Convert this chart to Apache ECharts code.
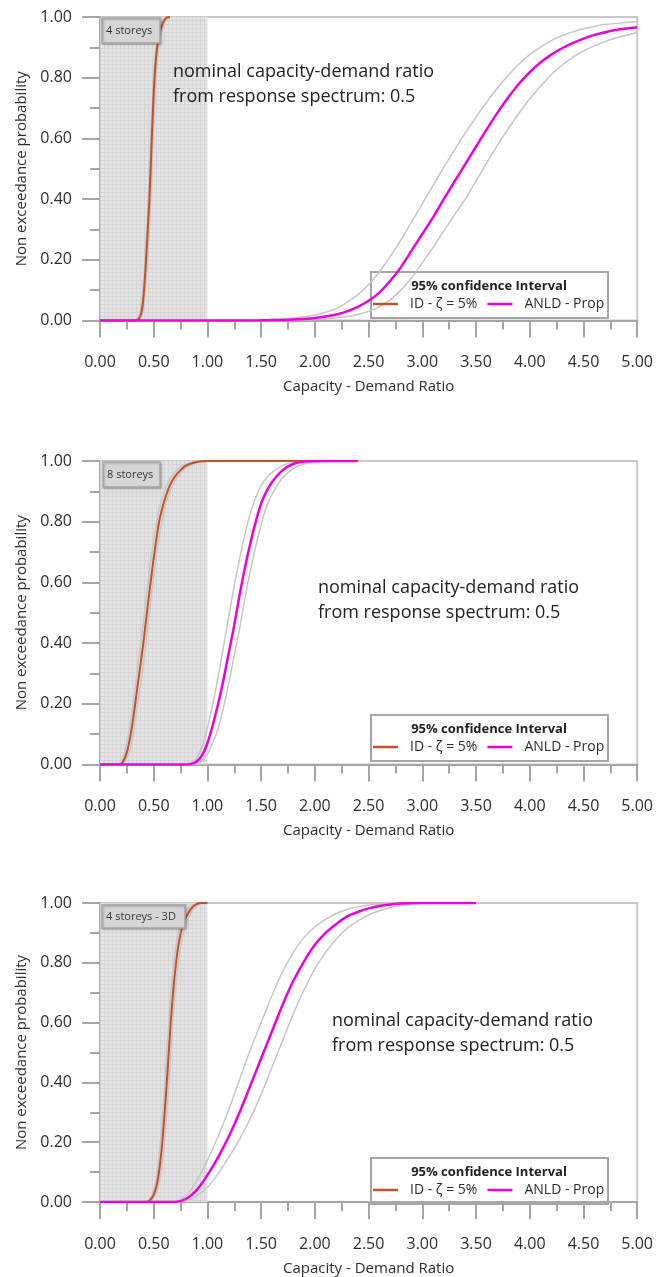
<!DOCTYPE html>
<html>
<head>
<meta charset="utf-8">
<script src="https://cdn.jsdelivr.net/npm/echarts@6/dist/echarts.min.js"></script>
<style>html,body{margin:0;padding:0;background:#fff}#c{width:656px;height:1277px}</style>
</head>
<body>
<div id="c"></div>
<script>
// ---------- data ----------
const panelLabels = ['4 storeys', '8 storeys', '4 storeys - 3D'];
const noteLines = ['nominal capacity-demand ratio', 'from response spectrum: 0.5'];
const legendTitle = '95% confidence Interval';
const seriesNames = ['ID - ζ = 5%', 'ANLD - Prop'];
const xAxisName = 'Capacity - Demand Ratio';
const yAxisName = 'Non exceedance probability';

// Panel 1 (4 storeys)
const id1X   = [0, 0.30, 0.35, 0.38, 0.40, 0.42, 0.44, 0.46, 0.48, 0.50, 0.52, 0.54, 0.56, 0.58, 0.60, 0.62, 0.65];
const id1    = [0, 0, 0.002, 0.02, 0.06, 0.15, 0.27, 0.40, 0.58, 0.75, 0.86, 0.92, 0.955, 0.975, 0.99, 0.998, 1.0];
const id1Up  = [0, 0, 0.006, 0.04, 0.10, 0.21, 0.34, 0.50, 0.67, 0.81, 0.90, 0.945, 0.97, 0.985, 0.995, 1.0, 1.0];
const id1Lo  = [0, 0, 0.0, 0.008, 0.03, 0.09, 0.19, 0.30, 0.46, 0.65, 0.79, 0.88, 0.93, 0.96, 0.98, 0.99, 0.998];
const anld1X  = [0, 0.5, 1.0, 1.5, 1.6, 1.7, 1.8, 1.9, 2.0, 2.1, 2.2, 2.3, 2.4, 2.5, 2.6, 2.7, 2.8, 2.9, 3.0, 3.1, 3.2, 3.3, 3.4, 3.5, 3.6, 3.7, 3.8, 3.9, 4.0, 4.1, 4.2, 4.3, 4.4, 4.5, 4.6, 4.7, 4.8, 4.9, 5.0];
const anld1   = [0, 0, 0, 0.001, 0.0015, 0.002, 0.003, 0.005, 0.008, 0.013, 0.02, 0.03, 0.045, 0.065, 0.092, 0.13, 0.175, 0.23, 0.285, 0.34, 0.40, 0.458, 0.515, 0.573, 0.63, 0.685, 0.735, 0.78, 0.818, 0.85, 0.876, 0.897, 0.914, 0.929, 0.941, 0.95, 0.957, 0.962, 0.966];
const anld1Up = [0, 0, 0, 0.002, 0.003, 0.005, 0.008, 0.012, 0.018, 0.027, 0.04, 0.06, 0.085, 0.118, 0.16, 0.21, 0.265, 0.325, 0.385, 0.445, 0.505, 0.562, 0.618, 0.67, 0.72, 0.766, 0.808, 0.845, 0.876, 0.901, 0.922, 0.938, 0.951, 0.961, 0.969, 0.975, 0.979, 0.982, 0.985];
const anld1Lo = [0, 0, 0, 0, 0, 0.0005, 0.001, 0.002, 0.003, 0.005, 0.008, 0.013, 0.02, 0.03, 0.045, 0.068, 0.10, 0.14, 0.19, 0.24, 0.295, 0.348, 0.40, 0.46, 0.52, 0.578, 0.632, 0.683, 0.73, 0.772, 0.81, 0.841, 0.867, 0.888, 0.905, 0.919, 0.931, 0.94, 0.948];

// Panel 2 (8 storeys)
const id2X   = [0, 0.15, 0.20, 0.25, 0.30, 0.35, 0.40, 0.45, 0.50, 0.55, 0.60, 0.65, 0.70, 0.75, 0.80, 0.90, 1.00, 2.40];
const id2    = [0, 0, 0.003, 0.04, 0.13, 0.26, 0.39, 0.54, 0.68, 0.80, 0.87, 0.92, 0.95, 0.97, 0.985, 0.997, 1.0, 1.0];
const id2Up  = [0, 0, 0.01, 0.07, 0.18, 0.32, 0.46, 0.61, 0.74, 0.84, 0.90, 0.94, 0.965, 0.98, 0.99, 0.999, 1.0, 1.0];
const id2Lo  = [0, 0, 0, 0.02, 0.08, 0.20, 0.32, 0.47, 0.62, 0.75, 0.84, 0.90, 0.935, 0.96, 0.978, 0.994, 0.999, 1.0];
const anld2X  = [0, 0.80, 0.85, 0.90, 0.95, 1.00, 1.05, 1.10, 1.15, 1.20, 1.25, 1.30, 1.35, 1.40, 1.45, 1.50, 1.55, 1.60, 1.70, 1.80, 1.90, 2.00, 2.40];
const anld2   = [0, 0, 0.002, 0.01, 0.03, 0.07, 0.13, 0.20, 0.28, 0.37, 0.46, 0.56, 0.65, 0.73, 0.80, 0.86, 0.90, 0.93, 0.97, 0.99, 0.998, 1.0, 1.0];
const anld2Up = [0, 0.001, 0.006, 0.02, 0.06, 0.12, 0.20, 0.29, 0.39, 0.49, 0.59, 0.68, 0.76, 0.83, 0.88, 0.92, 0.945, 0.962, 0.985, 0.995, 0.999, 1.0, 1.0];
const anld2Lo = [0, 0, 0, 0.003, 0.012, 0.035, 0.07, 0.12, 0.19, 0.27, 0.36, 0.45, 0.55, 0.64, 0.72, 0.79, 0.85, 0.89, 0.945, 0.975, 0.99, 0.997, 1.0];

// Panel 3 (4 storeys - 3D)
const id3X   = [0, 0.44, 0.46, 0.48, 0.50, 0.52, 0.54, 0.56, 0.58, 0.60, 0.62, 0.64, 0.66, 0.68, 0.70, 0.72, 0.74, 0.76, 0.78, 0.80, 0.82, 0.84, 0.86, 0.88, 0.90, 0.92, 0.94, 1.00];
const id3    = [0, 0, 0.005, 0.012, 0.025, 0.045, 0.08, 0.13, 0.20, 0.29, 0.39, 0.50, 0.61, 0.70, 0.775, 0.835, 0.88, 0.912, 0.935, 0.952, 0.966, 0.977, 0.986, 0.992, 0.996, 0.999, 1.0, 1.0];
const id3Up  = [0, 0.002, 0.008, 0.02, 0.04, 0.07, 0.12, 0.19, 0.28, 0.38, 0.49, 0.60, 0.70, 0.78, 0.84, 0.885, 0.918, 0.94, 0.957, 0.97, 0.98, 0.987, 0.992, 0.996, 0.998, 1.0, 1.0, 1.0];
const id3Lo  = [0, 0, 0.002, 0.006, 0.014, 0.027, 0.05, 0.085, 0.135, 0.20, 0.29, 0.39, 0.50, 0.61, 0.70, 0.77, 0.83, 0.875, 0.905, 0.93, 0.948, 0.963, 0.975, 0.984, 0.99, 0.995, 0.998, 1.0];
const anld3X  = [0, 0.70, 0.80, 0.90, 1.00, 1.10, 1.20, 1.30, 1.40, 1.50, 1.60, 1.70, 1.80, 1.90, 2.00, 2.10, 2.20, 2.30, 2.40, 2.50, 2.60, 2.70, 2.80, 2.90, 3.00, 3.50];
const anld3   = [0, 0, 0.01, 0.04, 0.09, 0.15, 0.22, 0.30, 0.39, 0.48, 0.57, 0.66, 0.74, 0.805, 0.86, 0.90, 0.93, 0.955, 0.97, 0.982, 0.99, 0.995, 0.998, 1.0, 1.0, 1.0];
const anld3Up = [0, 0.002, 0.02, 0.07, 0.14, 0.22, 0.31, 0.41, 0.51, 0.60, 0.69, 0.77, 0.835, 0.885, 0.92, 0.945, 0.965, 0.978, 0.987, 0.993, 0.997, 0.999, 1.0, 1.0, 1.0, 1.0];
const anld3Lo = [0, 0, 0.004, 0.02, 0.05, 0.095, 0.15, 0.21, 0.28, 0.36, 0.45, 0.54, 0.63, 0.71, 0.78, 0.835, 0.88, 0.915, 0.94, 0.96, 0.974, 0.985, 0.992, 0.996, 0.998, 1.0];

// shaded region (capacity-demand ratio below 1)
const shadeRange = [0, 1];

// ---------- styling / layout ----------
const FONT = 'Open Sans';
const AX = '#a6a6a6';
const TXT = '#2e2e2e';
const C_ID = '#c4502a';
const C_ANLD = '#ee00dd';
const C_CI = '#c9c4c8';

const panels = [
  { top: 17,  id: [id1X, id1, id1Up, id1Lo], anld: [anld1X, anld1, anld1Up, anld1Lo],
    box: { x: 102, y: 18, w: 58, h: 25 }, note: { x: 173, y: 72 }, leg: 272 },
  { top: 461, id: [id2X, id2, id2Up, id2Lo], anld: [anld2X, anld2, anld2Up, anld2Lo],
    box: { x: 103, y: 462, w: 57, h: 25 }, note: { x: 318, y: 588 }, leg: 715 },
  { top: 903, id: [id3X, id3, id3Up, id3Lo], anld: [anld3X, anld3, anld3Up, anld3Lo],
    box: { x: 102, y: 905, w: 83, h: 23 }, note: { x: 332, y: 1021 }, leg: 1158 }
];
const GRID_LEFT = 100, GRID_W = 538.5, GRID_H = 303.5;

function zip(xs, ys) { return xs.map((x, i) => [x, ys[i]]); }

// texture for shaded region
const pc = document.createElement('canvas');
pc.width = 4; pc.height = 4;
const pctx = pc.getContext('2d');
pctx.fillStyle = '#e4e4e4'; pctx.fillRect(0, 0, 4, 4);
pctx.fillStyle = '#d4d4d4'; pctx.fillRect(0, 0, 4, 1); pctx.fillRect(0, 0, 1, 4);

const grid = [], xAxis = [], yAxis = [], series = [], legend = [], graphic = [];
panels.forEach((p, i) => {
  grid.push({ left: GRID_LEFT, top: p.top, width: GRID_W, height: GRID_H, show: true,
    borderColor: '#c8c8c8', borderWidth: 2, backgroundColor: 'transparent' });
  xAxis.push({ type: 'value', gridIndex: i, min: 0, max: 5, interval: 0.5,
    name: xAxisName, nameLocation: 'middle', nameGap: 59,
    nameTextStyle: { fontFamily: FONT, fontSize: 15, color: TXT },
    axisLine: { show: true, lineStyle: { color: AX, width: 2 } },
    axisTick: { show: true, length: 17, lineStyle: { color: AX, width: 2 } },
    minorTick: { show: true, splitNumber: 2, length: 9, lineStyle: { color: AX, width: 2 } },
    splitLine: { show: false },
    axisLabel: { margin: 34, fontFamily: FONT, fontSize: 16, color: TXT, formatter: v => v.toFixed(2) } });
  yAxis.push({ type: 'value', gridIndex: i, min: 0, max: 1, interval: 0.2,
    name: yAxisName, nameLocation: 'middle', nameGap: 70,
    nameTextStyle: { fontFamily: FONT, fontSize: 15, color: TXT },
    axisLine: { show: true, lineStyle: { color: AX, width: 2 } },
    axisTick: { show: true, length: 18, lineStyle: { color: AX, width: 2 } },
    minorTick: { show: true, splitNumber: 2, length: 10, lineStyle: { color: AX, width: 2 } },
    splitLine: { show: false },
    axisLabel: { margin: 28, fontFamily: FONT, fontSize: 16, color: TXT, formatter: v => v.toFixed(2) } });

  const base = { type: 'line', xAxisIndex: i, yAxisIndex: i, showSymbol: false, symbol: 'none',
    smooth: 0.25, silent: true, animation: false };
  // shaded zone
  series.push(Object.assign({}, base, { name: 'shade' + i, data: [], z: 0,
    markArea: { silent: true, itemStyle: { color: { image: pc, repeat: 'repeat' }, opacity: 1 },
      data: [[{ xAxis: shadeRange[0], yAxis: 0 }, { xAxis: shadeRange[1], yAxis: 1 }]] } }));
  // confidence bounds
  [p.id[2], p.id[3]].forEach(ys => series.push(Object.assign({}, base, { name: 'ci', z: 2,
    data: zip(p.id[0], ys), lineStyle: { color: C_CI, width: 1.5 } })));
  [p.anld[2], p.anld[3]].forEach(ys => series.push(Object.assign({}, base, { name: 'ci', z: 2,
    data: zip(p.anld[0], ys), lineStyle: { color: C_CI, width: 1.5 } })));
  // main curves
  series.push(Object.assign({}, base, { name: seriesNames[0], z: 3, color: C_ID,
    data: zip(p.id[0], p.id[1]), lineStyle: { color: C_ID, width: 2 } }));
  series.push(Object.assign({}, base, { name: seriesNames[1], z: 3, color: C_ANLD,
    data: zip(p.anld[0], p.anld[1]), lineStyle: { color: C_ANLD, width: 2.5 } }));

  legend.push({ data: seriesNames, left: 373, top: p.leg + 25, padding: 0, itemGap: 10,
    icon: 'rect', itemWidth: 25, itemHeight: 2.5, selectedMode: false,
    textStyle: { fontFamily: FONT, fontSize: 14, color: TXT, padding: [0, 0, 0, 7] } });

  // legend frame + title
  graphic.push({ type: 'rect', silent: true, z: 1,
    shape: { x: 371, y: p.leg, width: 237, height: 46 },
    style: { fill: 'transparent', stroke: AX, lineWidth: 2 } });
  graphic.push({ type: 'text', silent: true, z: 5,
    style: { text: legendTitle, x: 489, y: p.leg + 14, align: 'center', verticalAlign: 'middle',
      fontFamily: FONT, fontSize: 13, fontWeight: 'bold', fill: '#222' } });
  // panel label box
  graphic.push({ type: 'rect', silent: true, z: 5,
    shape: { x: p.box.x, y: p.box.y, width: p.box.w, height: p.box.h },
    style: { fill: '#d6d6d6', stroke: '#a8a8a8', lineWidth: 1.5,
      shadowBlur: 2, shadowColor: 'rgba(0,0,0,0.25)', shadowOffsetX: 1, shadowOffsetY: 1 } });
  graphic.push({ type: 'text', silent: true, z: 6,
    style: { text: panelLabels[i], x: p.box.x + 4, y: p.box.y + p.box.h / 2, align: 'left',
      verticalAlign: 'middle', fontFamily: FONT, fontSize: 11, fill: '#333' } });
  // note
  noteLines.forEach((t, k) => graphic.push({ type: 'text', silent: true, z: 6,
    style: { text: t, x: p.note.x, y: p.note.y + k * 25, align: 'left', verticalAlign: 'middle',
      fontFamily: FONT, fontSize: 18, fill: '#222' } }));
});

const chart = echarts.init(document.getElementById('c'), null, { renderer: 'canvas' });
chart.setOption({ animation: false, backgroundColor: '#fff', grid, xAxis, yAxis, series, legend, graphic });
</script>
</body>
</html>
